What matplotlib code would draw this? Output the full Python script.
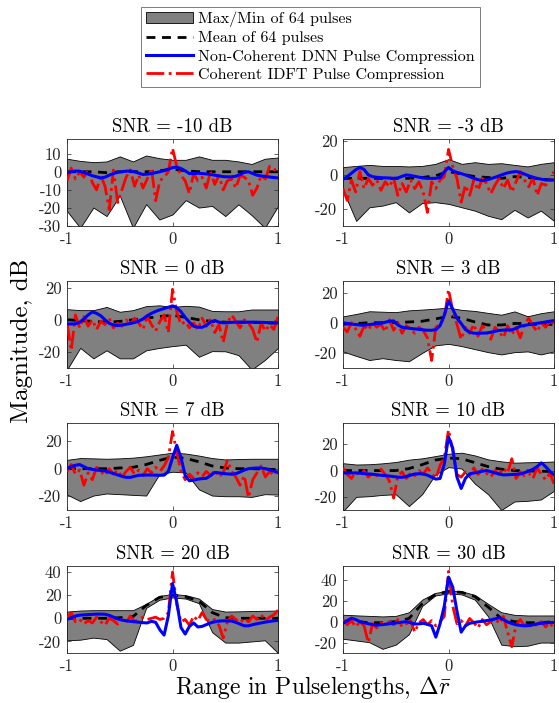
import numpy as np
import matplotlib
matplotlib.use("Agg")
import matplotlib.pyplot as plt
from matplotlib.patches import Patch
from matplotlib.lines import Line2D

plt.rcParams['font.family'] = ['cmr10', 'DejaVu Serif']
plt.rcParams['mathtext.fontset'] = 'cm'
plt.rcParams['axes.unicode_minus'] = False

# sample positions (pulselengths)
x_env = np.linspace(-1, 1, 17)
x_sig = np.linspace(-1, 1, 51)

snr_db = [-10, -3, 0, 3, 7, 10, 20, 30]

# ---- SNR = -10 dB
up_m10 = [7.2, 6, 5.3, 5.7, 8.5, 5.7, 9, 7.5, 6.6, 6.6, 8.5, 6.6, 6.6, 5.7, 4.3, 7.2, 7.9]
lo_m10 = [-21.7, -31, -19.8, -24.5, -13.2, -31, -17.9, -26.4, -23.6, -15.7, -19.8, -18.9, -24.5, -18, -24, -31, -19]
mean_m10 = [0, 0, 0, -0.5, 0, 0, 0, 0.5, 1.5, 0.5, 0, 0, 0, 0, 0, 0, 0]
dnn_m10 = [-0.5, 0, 0.4, 0.3, -0.5, -1.3, -2.2, -2.8, -3.4, -3, -1.9, -1, -0.3, 0, 0.3, 0.4, 0,
           -0.8, -1.5, -1.3, -1, -0.5, 0, 0.6, 1.4, 2.3, 2.5, 1.8, 0.5, -1, -1, -0.8, -1, -1.2,
           -1.5, -1.9, -2.3, -2.7, -2.8, -2.8, -2.5, -1.5, -0.3, 0, -1, -1.9, -2.3, -2.6, -2.9, -3.2, -3.4]
idft_m10 = [-5, 2, -4, 0, -3, 1, -6, -10, -2, -8, -21, 1, -17, -10, -3, 1, -8, -2, -9, -4,
            2, -16, -5, -3, 0, 13, 3, -2, -5, -12, -1, -5, -3, -9, 0, -7, -2, -10, -5, -4,
            -9, -2, -3, -5, -13, -9, -2, -4, 3, 1, 2]

# ---- SNR = -3 dB
up_m3 = [4.6, 5.3, 5.9, 5.3, 5.3, 5, 5.3, 6.5, 9.3, 6.5, 7.5, 6.5, 6.9, 5.9, 5, 6.5, 7.5]
lo_m3 = [-9, -27, -19, -18, -16, -22, -16.5, -16, -17, -19, -21, -24, -26, -20.5, -25, -21, -27]
mean_m3 = [-2, -2, -2, -2, -2, -2, -1.5, -0.5, 2, 0.5, -1, -1.5, -2, -1, -1.5, -2.5, -3]
dnn_m3 = [-2.6, -1, 1, 3, 4.4, 3.2, 0, -1, -1.4, -1.6, -1.7, -1.8, -2, -1.8, -0.8, 0, -0.3,
          -0.8, -1.3, -1.8, -2, -2, -2, -1.5, 1.8, 4.4, 2.4, 1.5, 0.8, 0, -1, -2, -2.8, -3.3,
          -3, -2.2, -1.4, -0.5, 0.4, 1.2, 1.7, 2, 1.5, 0.5, -0.5, -1.3, -2, -2.5, -3, -3, -3]
idft_m3 = [-8, -15, -3, -10, 2, -8, -2, -6, -3, -9, -4, -7, -2, -12, -5, -10, -3, -8, -4, -10,
           -22, -4, -8, -3, -1, 15, 5, -2, -16, -6, -12, -3, -9, -2, -5, -11, -6, -2, -8, -3,
           -10, -4, 2, -3, -7, -2, -12, -5, -6, -3, 2]

# ---- SNR = 0 dB
up_0 = [6.6, 6, 6, 8, 5, 6, 8.5, 9, 8, 8.7, 8.2, 5.5, 5.3, 5.3, 6.4, 6.4, 6.4]
lo_0 = [-31, -17.5, -24, -19, -24, -24, -19, -17.5, -16.4, -15.5, -23, -19.5, -19.6, -22, -31, -25, -17.5]
mean_0 = [0, -0.5, -1, -1.5, -1, 0, 1, 2, 2.8, 1.5, 0, -1, -1.5, -1.5, -1.5, -2, -2]
dnn_0 = [-2.6, -2.6, -2.5, -1.5, 0.5, 3, 4.9, 4, 2.5, 0, -2.2, -3.2, -3.6, -3.3, -2.8, -2.3, -1.7,
         -0.8, 0.5, 2.5, 4, 5.2, 6.2, 7, 7.8, 8.7, 7.5, 5, 1.5, -1.5, -4, -4.6, -4.7, -3.5,
         -1.5, -0.4, -1.5, -1.9, -1.8, -1.6, -1.5, -1.5, -1.5, -1.5, -1.5, -1.5, -1.6, -1.7, -1.8, -1.9, -2]
idft_0 = [-2, -19, 3, -5, 2, -4, 0, -6, -1, -3, 1, -5, -2, -4, 0, -3, 1, -2, -6, 2,
          -3, -7, -1, 3, -8, 19, 5, -3, -1, -5, -2, -6, 1, -4, 0, -8, -3, -14, -2, 3,
          -1, -5, 0, -2, -6, -14, -2, -7, -3, -6, 2]

# ---- SNR = 3 dB
up_3 = [4.2, 5.8, 7.6, 7.3, 7, 8.2, 8.7, 9.3, 10, 8.5, 7.8, 6.5, 5.3, 7.5, 4.3, 6.3, 7.6]
lo_3 = [-19, -22, -24.7, -23.5, -24.7, -25.5, -20, -15, -14, -15.5, -17.5, -19.5, -21, -19.5, -19, -21, -19]
mean_3 = [-1, -0.5, 0, 0, 0, 0.5, 1, 2.5, 4.2, 3, 0.5, -1.5, -1.5, -0.5, -0.5, -1.5, -1]
dnn_3 = [0, -0.5, -0.9, -1.2, -1.5, -1.6, -1.3, -1, -0.6, -0.4, 0.3, 1, 1.2, -1.5, -3, -3.4, -3.8,
         -4.1, -4.4, -4.7, -5, -5, -4.6, -2, 5, 14.5, 9, 3, -0.5, -4.5, -6.3, -6.9, -7, -6.9,
         -6.8, -6.3, -5.7, -5.1, -4.9, -4.8, -4.7, -3.8, -2.3, -1.8, -1.3, -0.9, -0.4, 0, 0.5, 1, 1.4]
idft_3 = [-3, -6, 0, -4, -9, -2, -5, 0, -3, -1, -6, 2, -5, 0, -7, -2, -4, -7, -3, -5,
          -10, -25, -3, -1, 3, 22, 8, -1, -11, -3, -7, -1, -9, -2, -5, -11, -3, -6, -10, -2,
          -8, -3, -10, -1, 3, -2, -6, 0, -3, 1, -1]

# ---- SNR = 7 dB
up_7 = [6.4, 7.7, 7.5, 7.2, 7.5, 8, 9, 10.3, 11.6, 11, 9.5, 7.7, 6.7, 7, 7.2, 7.2, 7.2]
lo_7 = [-18.8, -23.5, -19.5, -18, -18.5, -19, -19.5, -4, -2.2, -2.8, -15, -19.5, -20, -20, -20.5, -18.5, -18.8]
mean_7 = [0, 0, 0, 0, 0.5, 1, 3, 6, 8.4, 7.5, 5, 2, 0.5, 0, 0, -0.3, -0.7]
dnn_7 = [0.2, 1.5, 2.5, 3, 1.5, 0, -0.5, -1, -1.3, -1.6, -2.5, -3.5, -4.5, -5.5, -6.3, -6.3, -5.5,
         -4.8, -4.7, -4.6, -4.6, -4.7, -4.8, -4.7, -2, 8, 17, 8, -5, -8.8, -8.3, -7.6, -7.2, -7,
         -5, -2.7, -3, -3.5, -3.8, -4, -3.6, -2.4, -1, 0, 0.3, 0.5, 0.5, 0, -0.8, -1.8, -2.7]
idft_7 = [-2, 3, -4, -1, -12, -3, -8, 1, -2, -5, 0, -4, -1, -6, -2, 1, -4, -1, -5, 0,
          -3, 1, -2, 2, 8, 27, 12, -2, -8, -4, -7, -3, -6, -2, -5, -1, -6, -3, 6, -2,
          -6, -12, -5, -21, -8, -3, 2, -6, -2, -5, 0]

# ---- SNR = 10 dB
up_10 = [5.6, 4.6, 4.8, 5.5, 6.5, 8.3, 9.3, 11, 12.8, 13.6, 11.5, 8.5, 7, 6, 6.3, 6.5, 6.9]
lo_10 = [-31, -20, -19.5, -18.5, -18, -27, -18, -3, 2.6, 1.5, -10, -18, -30, -23.5, -23, -22, -15.4]
mean_10 = [0, 0, 0, 0, 0, 1.5, 4.5, 8, 9.5, 9, 6, 3, 1, 0, -0.3, -0.5, -0.8]
dnn_10 = [-1.8, -1.8, -1.8, -1.8, -2, -2.3, -2.6, -2.8, -3.2, -3.6, -3.8, -4.2, -4.6, -5, -5.1, -4.5,
          -3.5, -2.6, -2.4, -2.6, -3.5, -5, -6.5, -6, 5, 25.6, 17, -5, -13.6, -6, -2.5, -1.8,
          -1.2, -0.5, 0, -0.8, -1.8, -2.6, -3.3, -3.2, -3, -2.8, -2.6, -1.6, -0.5, 1, 3, 5.9, 3, -0.5, -3.3]
idft_10 = [2, -3, -6, -1, -4, 0, -5, -2, -4, 1, -3, -8, -21, -4, -1, -6, -2, -4, 0, -3,
           2, -2, -6, 4, 10, 31, 15, -3, -5, -1, -4, 2, -3, 1, -2, -5, 0, -3, 2, -2,
           9, -6, -1, -4, -2, -6, 2, -3, -7, -2, -10]

# ---- SNR = 20 dB
up_20 = [5.8, 6.7, 7, 7, 7, 7, 12.5, 19.3, 21, 20, 17, 8, 5.8, 6, 6.3, 6.5, 6.7]
lo_20 = [-19, -18.5, -16.7, -18, -28, -23, 9, 16, 18, 17, 13, -12, -21, -21, -20, -19, -30]
mean_20 = [0, 0, 0, 0, 0.5, 1.5, 11, 18, 20, 18.5, 15, 5, 0.5, 0, 0, 0, 0]
dnn_20 = [-1, 0.5, 2, 2.7, 3, 3.2, 3.4, 3.6, 3.6, 3.5, 2.5, 1, -0.5, -1.5, -2.2, -2.6, -3, -3.4,
          -3.8, -4, -2.6, -3.5, -10, -14.5, 2, 30, 14, -8, -13.6, -7, -4, -7.5, -7, -5.5, -4,
          -3, -2.4, -2.2, -2.3, -2.4, -3.5, -5, -6.5, -6.5, -5.5, -4.7, -4, -3.3, -2.7, -2.2, -1.8]
idft_20 = [0, 5, -3, -1, -5, -2, -4, 1, -3, -6, 0, -2, -5, -1, -4, 2, -3, -1, 1, -1,
           0, 1, -1, 0, 5, 40, 12, -3, -1, -6, 2, -2, 5, -1, -3, -1, -6, -17, -3, 2,
           -1, -4, 0, -3, 2, -1, 3, -2, 1, 3, 7]

# ---- SNR = 30 dB
up_30 = [6.6, 6, 5.5, 5, 5.5, 9, 21, 27.5, 29.5, 29, 25.5, 17, 9, 6.5, 5.9, 5.9, 5.9]
lo_30 = [-16.4, -18, -19.7, -26, -22, -12, 15, 25, 27, 26, 21, 5, -22, -23.5, -23, -20, -20]
mean_30 = [0, 0, -1, -1, 0, 3, 17, 26, 29, 28, 24, 14, 3, 0, -1, -1, 0]
dnn_30 = [-1.6, 1, 3.3, 2, 0, -1, -2, -2.8, -3.3, -3, -2.5, -2, -1.6, -1, -0.5, 0, -1, -2.3,
          -2.2, -1.6, -2.5, -4, -14.8, -2, 15, 42.6, 33, 10, -10, -4, -1.6, -0.8, -0.2, 0.3, 1,
          1.6, 2.6, 3.8, 2, -0.3, -1.8, -3, -3.6, -4, -3.8, -3, -2.2, -1.6, -1.2, -0.9, -0.7]
idft_30 = [2, -3, 1, -5, 0, -4, -20, -2, -6, -1, -4, 0, -3, 2, -5, -2, 1, -10, -1, 2,
           -3, 1, -4, 0, 5, 48, 15, -2, 1, -4, 3, -1, -6, 2, -3, 0, 4, -2, 5, -10,
           -24, -3, 2, -4, -1, -6, -2, 0, -5, -1, -7]

uppers = [up_m10, up_m3, up_0, up_3, up_7, up_10, up_20, up_30]
lowers = [lo_m10, lo_m3, lo_0, lo_3, lo_7, lo_10, lo_20, lo_30]
means = [mean_m10, mean_m3, mean_0, mean_3, mean_7, mean_10, mean_20, mean_30]
dnns = [dnn_m10, dnn_m3, dnn_0, dnn_3, dnn_7, dnn_10, dnn_20, dnn_30]
idfts = [idft_m10, idft_m3, idft_0, idft_3, idft_7, idft_10, idft_20, idft_30]

# layout (figure fractions) and axis limits
ylim_top = [18, 21, 24, 27.5, 33, 36, 45, 53]
ytick_sets = [[-30, -20, -10, 0, 10], [-20, 0, 20], [-20, 0, 20], [-20, 0, 20],
              [-20, 0, 20], [-20, 0, 20], [-20, 0, 20, 40], [-20, 0, 20, 40]]
col_left = [0.1199, 0.6136]
row_bottom = [0.6785, 0.4765, 0.2745, 0.0711]
ax_w, ax_h = 0.3775, 0.1235

fig = plt.figure(figsize=(5.59, 7.03), dpi=100)
axis_col = '#262626'

for i in range(8):
    r, c = divmod(i, 2)
    ax = fig.add_axes([col_left[c], row_bottom[r], ax_w, ax_h])
    ax.fill_between(x_env, lowers[i], uppers[i], facecolor='#808080',
                    edgecolor='k', linewidth=0.6, zorder=1)
    ax.plot(x_env, means[i], color='k', ls='--', lw=2.0, dashes=(3.2, 2.4), zorder=2)
    ax.plot(x_sig, idfts[i], color='r', ls='-.', lw=2.0, zorder=3)
    ax.plot(x_sig, dnns[i], color='b', lw=2.2, zorder=4)
    ax.set_xlim(-1, 1)
    ax.set_ylim(-30, ylim_top[i])
    ax.set_xticks([-1, 0, 1])
    ax.set_xticklabels(['-1', '0', '1'])
    ax.set_yticks(ytick_sets[i])
    ax.set_yticklabels([str(v) for v in ytick_sets[i]])
    ax.tick_params(direction='in', top=True, right=True, length=3, width=0.5,
                   labelsize=12, colors=axis_col, pad=4)
    for s in ax.spines.values():
        s.set_linewidth(0.6)
        s.set_color(axis_col)
    ax.set_title(f"SNR = {snr_db[i]} dB", fontsize=13.5, pad=5)

fig.text(0.04, 0.515, 'Magnitude, dB', rotation=90, fontsize=18,
         ha='center', va='center')
fig.text(0.56, 0.022, r'Range in Pulselengths, $\Delta\bar{r}$', fontsize=17,
         ha='center', va='center')

handles = [Patch(facecolor='#808080', edgecolor='k', linewidth=0.6),
           Line2D([], [], color='k', ls='--', lw=2.0, dashes=(3.2, 2.4)),
           Line2D([], [], color='b', lw=2.2),
           Line2D([], [], color='r', ls='-.', lw=2.0)]
labels = ['Max/Min of 64 pulses', 'Mean of 64 pulses',
          'Non-Coherent DNN Pulse Compression', 'Coherent IDFT Pulse Compression']
leg = fig.legend(handles, labels, loc='upper center', bbox_to_anchor=(0.555, 0.99),
                 fontsize=11.5, frameon=True, fancybox=False, edgecolor='#404040',
                 handlelength=3.0, handletextpad=0.3, labelspacing=0.25,
                 borderpad=0.3, borderaxespad=0)
leg.get_frame().set_linewidth(0.6)

fig.savefig('out.png', dpi=100)
